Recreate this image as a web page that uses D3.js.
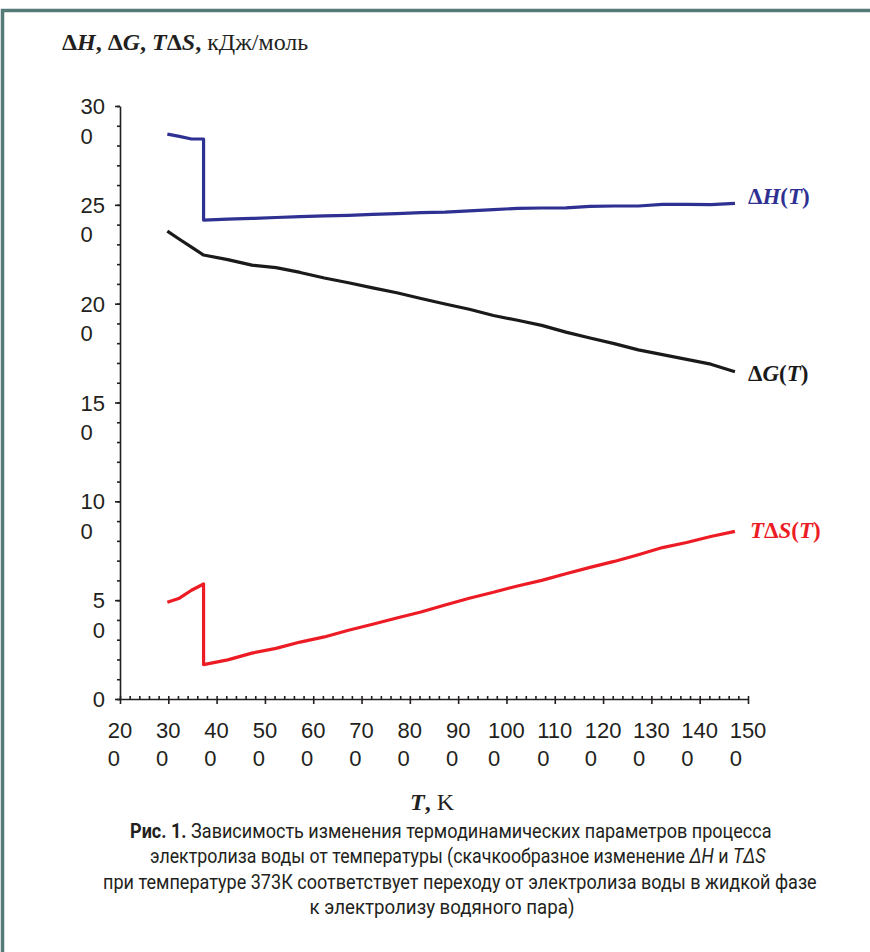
<!DOCTYPE html>
<html lang="ru">
  <head>
    <meta charset="utf-8">
    <title>ΔH, ΔG, TΔS vs T</title>
    <style>
      body { margin: 0; background: #fff; }
      svg { display: block; }
    </style>
  </head>
  <body>

<script src="https://cdn.jsdelivr.net/npm/d3@7"></script>

<script>
// temperatures, K (373 twice: liquid water, then vapour)
var temps = [298, 323, 348, 373, 373, 423, 473, 523, 573, 623, 673, 723, 773, 823,
             873, 923, 973, 1023, 1073, 1123, 1173, 1223, 1273, 1323, 1373, 1423, 1473];

// kJ/mol
var dH = [285.8, 284.6, 283.3, 283.3, 242.3, 242.8, 243.1, 243.6, 244.0, 244.4, 244.7,
          245.2, 245.6, 246.1, 246.3, 246.9, 247.6, 248.2, 248.4, 248.5, 249.2, 249.4,
          249.4, 250.2, 250.2, 250.1, 250.7];
var dG = [236.7, 232.6, 228.6, 224.6, 224.6, 222.3, 219.5, 218.2, 215.8, 213.0, 210.6,
          208.0, 205.5, 202.6, 199.8, 197.2, 194.0, 191.6, 189.0, 185.6, 182.6, 179.8,
          176.6, 174.2, 171.8, 169.4, 165.6];
var TdS = [48.9, 51.0, 55.0, 58.2, 17.4, 19.8, 23.2, 25.6, 28.8, 31.4, 34.8, 37.8,
           41.0, 44.0, 47.6, 51.0, 54.0, 57.2, 60.0, 63.4, 66.6, 69.6, 73.0, 76.6,
           79.2, 82.2, 84.8];

// tick labels are broken over two lines in the original
var yTicks = [0, 50, 100, 150, 200, 250, 300];
var yTickLabels = [["0"], ["5", "0"], ["10", "0"], ["15", "0"], ["20", "0"], ["25", "0"], ["30", "0"]];
var xTicks = [200, 300, 400, 500, 600, 700, 800, 900, 1000, 1100, 1200, 1300, 1400, 1500];
var xTickLabels = [["20", "0"], ["30", "0"], ["40", "0"], ["50", "0"], ["60", "0"], ["70", "0"],
                   ["80", "0"], ["90", "0"], ["100", "0"], ["110", "0"], ["120", "0"],
                   ["130", "0"], ["140", "0"], ["150", "0"]];

var captionLines = [
  [["Рис. 1.", "bold"], [" Зависимость изменения термодинамических параметров процесса", ""]],
  [["электролиза воды от температуры (скачкообразное изменение ", ""], ["ΔH", "it"], [" и ", ""], ["TΔS", "it"]],
  [["при температуре 373К соответствует переходу от электролиза воды в жидкой фазе", ""]],
  [["к электролизу водяного пара)", ""]]
];

var W = 870, H = 952;
var ink = "#231f20";
var serif = "'Liberation Serif', 'Times New Roman', serif";
var sans = "'Liberation Sans', Arial, sans-serif";

var svg = d3.select("body").append("svg")
  .attr("width", W)
  .attr("height", H);

svg.append("rect").attr("width", W).attr("height", H).attr("fill", "#fff");

// frame (top and left edges visible)
svg.append("path")
  .attr("d", "M2.5,952 V10.5 H870")
  .attr("fill", "none")
  .attr("stroke", "#557a78")
  .attr("stroke-width", 3.5);

var x = d3.scaleLinear().domain([200, 1500]).range([120, 748]);
var y = d3.scaleLinear().domain([0, 300]).range([699, 106]);

// minor ticks
svg.append("g")
  .attr("transform", "translate(120,0)")
  .call(d3.axisLeft(y).tickValues(d3.range(0, 301, 10)).tickSize(3).tickFormat(""))
  .call(g => g.select(".domain").remove());
svg.append("g")
  .attr("transform", "translate(0,699)")
  .call(d3.axisTop(x).tickValues(d3.range(200, 1501, 20)).tickSize(3).tickFormat(""))
  .call(g => g.select(".domain").remove());

// major ticks + axis lines
svg.append("g")
  .attr("transform", "translate(120,0)")
  .call(d3.axisLeft(y).tickValues(yTicks).tickSize(5).tickSizeOuter(0).tickFormat(""));
svg.append("g")
  .attr("transform", "translate(0,699)")
  .call(d3.axisBottom(x).tickValues(xTicks).tickSize(5).tickSizeOuter(0).tickFormat(""));

svg.selectAll(".tick line, .domain")
  .attr("stroke", ink)
  .attr("stroke-width", 1.6);

// y tick labels
yTicks.forEach(function(v, i) {
  var t = svg.append("text")
    .attr("font-family", sans)
    .attr("font-size", 22)
    .attr("fill", ink);
  yTickLabels[i].forEach(function(s, k) {
    t.append("tspan").attr("y", y(v) + 8 + k * 29.5).text(s);
  });
  var w = t.select("tspan").node().getComputedTextLength();
  t.selectAll("tspan").attr("x", 105 - w);
});

// x tick labels
xTicks.forEach(function(v, i) {
  var t = svg.append("text")
    .attr("font-family", sans)
    .attr("font-size", 22)
    .attr("fill", ink);
  xTickLabels[i].forEach(function(s, k) {
    t.append("tspan").attr("y", 738 + k * 28).text(s);
  });
  var w = t.select("tspan").node().getComputedTextLength();
  t.selectAll("tspan").attr("x", x(v) - w / 2);
});

// series
var line = d3.line()
  .x((d, i) => x(temps[i]))
  .y(d => y(d));

var series = [
  { values: dH, color: "#2e3192", label: [["Δ", ""], ["H", "it"], ["(", ""], ["T", "it"], [")", ""]], lx: 748, ly: 204 },
  { values: dG, color: "#1a1a1a", label: [["Δ", ""], ["G", "it"], ["(", ""], ["T", "it"], [")", ""]], lx: 748, ly: 381 },
  { values: TdS, color: "#ed1c24", label: [["T", "it"], ["Δ", ""], ["S", "it"], ["(", ""], ["T", "it"], [")", ""]], lx: 750, ly: 538 }
];

series.forEach(function(s) {
  svg.append("path")
    .datum(s.values)
    .attr("d", line)
    .attr("fill", "none")
    .attr("stroke", s.color)
    .attr("stroke-width", 3.2)
    .attr("stroke-linejoin", "round");

  var t = svg.append("text")
    .attr("x", s.lx)
    .attr("y", s.ly)
    .attr("font-family", serif)
    .attr("font-size", 23)
    .attr("font-weight", "bold")
    .attr("fill", s.color);
  s.label.forEach(function(p) {
    t.append("tspan").attr("font-style", p[1] == "it" ? "italic" : "normal").text(p[0]);
  });
});

// axis titles
var yt = svg.append("text")
  .attr("x", 62).attr("y", 50)
  .attr("font-family", serif)
  .attr("font-size", 24)
  .attr("fill", ink);
[["Δ", "b"], ["H", "bi"], [", ", "b"], ["Δ", "b"], ["G", "bi"], [", ", "b"],
 ["T", "bi"], ["Δ", "b"], ["S", "bi"], [", ", "b"], ["кДж/моль", ""]].forEach(function(p) {
  yt.append("tspan")
    .attr("font-weight", p[1].indexOf("b") >= 0 ? "bold" : "normal")
    .attr("font-style", p[1].indexOf("i") >= 0 ? "italic" : "normal")
    .text(p[0]);
});

var xt = svg.append("text")
  .attr("x", 410).attr("y", 810)
  .attr("font-family", serif)
  .attr("font-size", 24)
  .attr("fill", ink);
xt.append("tspan").attr("font-weight", "bold").attr("font-style", "italic").text("T");
xt.append("tspan").attr("font-weight", "bold").text(", ");
xt.append("tspan").text("K");

// caption: condensed look made by squeezing a normal sans horizontally
var capWidths = [642, 616, 714, 265];
var capCenters = [451, 458, 460, 442];
captionLines.forEach(function(parts, i) {
  var g = svg.append("g");
  var t = g.append("text")
    .attr("font-family", "'Roboto', 'Liberation Sans', sans-serif")
    .attr("font-size", 20)
    .attr("fill", ink);
  parts.forEach(function(p) {
    t.append("tspan")
      .attr("font-weight", p[1] == "bold" ? "bold" : "normal")
      .attr("font-style", p[1] == "it" ? "italic" : "normal")
      .text(p[0]);
  });
  var w = t.node().getComputedTextLength();
  var k = capWidths[i] / w;
  g.attr("transform", "translate(" + (capCenters[i] - capWidths[i] / 2) + "," + (838 + i * 25.3) + ") scale(" + k + ",1)");
});
</script>

  </body>
</html>
